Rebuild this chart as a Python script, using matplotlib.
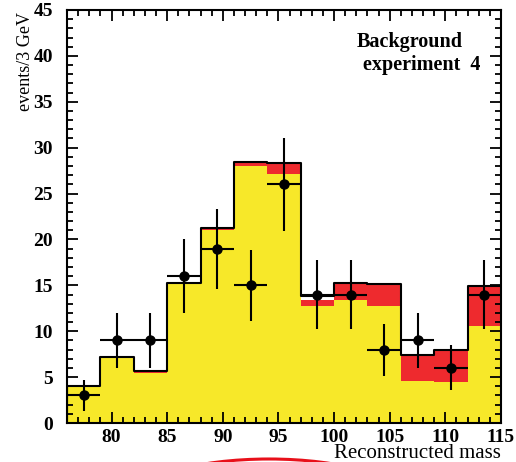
import numpy as np
import matplotlib
matplotlib.use("Agg")
import matplotlib.pyplot as plt
from matplotlib.patches import Arc

# Bin edges (3 GeV bins)
edges = [76, 79, 82, 85, 88, 91, 94, 97, 100, 103, 106, 109, 112, 115]
# Black outline (total expectation)
total = [4.0, 7.2, 5.7, 15.3, 21.3, 28.4, 28.3, 13.8, 15.3, 15.1, 7.4, 8.0, 14.9]
# Red component top (stacked)
red_top = [3.95, 7.2, 5.65, 15.25, 21.2, 28.3, 28.2, 13.4, 15.2, 15.0, 7.25, 7.9, 14.8]
# Yellow component
yellow = [3.9, 7.15, 5.45, 15.2, 21.0, 28.0, 27.1, 12.7, 13.4, 12.7, 4.6, 4.45, 10.6]
# Data points
data_x = [77.5, 80.5, 83.5, 86.5, 89.5, 92.5, 95.5, 98.5, 101.5, 104.5, 107.5, 110.5, 113.5]
data_y = [3, 9, 9, 16, 19, 15, 26, 14, 14, 8, 9, 6, 14]
data_err = [1.73, 3.0, 3.0, 4.0, 4.36, 3.87, 5.1, 3.74, 3.74, 2.83, 3.0, 2.45, 3.74]
x_halfwidth = [1.5] * 13

serif = ['Liberation Serif', 'DejaVu Serif']

fig = plt.figure(figsize=(5.16, 4.62), dpi=100)
ax = fig.add_axes([67/516, 1-423/462, (501-67)/516, (423-10)/462])

def step_vals(v):
    return list(v) + [v[-1]]

ax.fill_between(edges, 0, step_vals(red_top), step='post', color='#ee2a2e', lw=0)
ax.fill_between(edges, 0, step_vals(yellow), step='post', color='#f7e829', lw=0)
ax.step(edges, step_vals(total), where='post', color='black', lw=1.5)
ax.vlines(edges[0], 0, total[0], color='black', lw=1.5)
ax.errorbar(data_x, data_y, yerr=data_err, xerr=x_halfwidth, fmt='o', color='black',
            ms=6.5, elinewidth=1.5, capsize=0)

ax.set_xlim(76, 115)
ax.set_ylim(0, 45)
ax.set_xticks(range(80, 116, 5))
ax.set_yticks(range(0, 46, 5))
ax.set_xticks(range(76, 116), minor=True)
ax.set_yticks(range(0, 46), minor=True)
ax.tick_params(which='both', direction='in', top=True, right=True, width=1.3)
ax.tick_params(which='major', length=8)
ax.tick_params(axis='x', which='major', pad=4)
ax.tick_params(axis='y', which='major', pad=10)
ax.tick_params(which='minor', length=4)
for lab in ax.get_xticklabels() + ax.get_yticklabels():
    lab.set_fontfamily(serif)
    lab.set_fontweight('bold')
    lab.set_fontsize(14)
for s in ax.spines.values():
    s.set_linewidth(1.5)

fig.text(26/516, 1-12/462, 'events/3 GeV', rotation=90, ha='center', va='top',
         family=serif, fontsize=13)
fig.text(501/516, 1-454/462, 'Reconstructed mass', ha='right', va='center',
         family=serif, fontsize=15)
fig.text(410/516, 1-42/462, 'Background', ha='center', va='center',
         family=serif, fontweight='bold', fontsize=14.5)
fig.text(480/516, 1-65/462, 'experiment  4', ha='right', va='center',
         family=serif, fontweight='bold', fontsize=14.5)

arc = Arc((269/516, 1-500/462), 270/516, 82/462, theta1=0, theta2=180,
          transform=fig.transFigure, color='#e8101a', lw=2.2, clip_on=False)
fig.add_artist(arc)

fig.savefig('out.png', dpi=100)
